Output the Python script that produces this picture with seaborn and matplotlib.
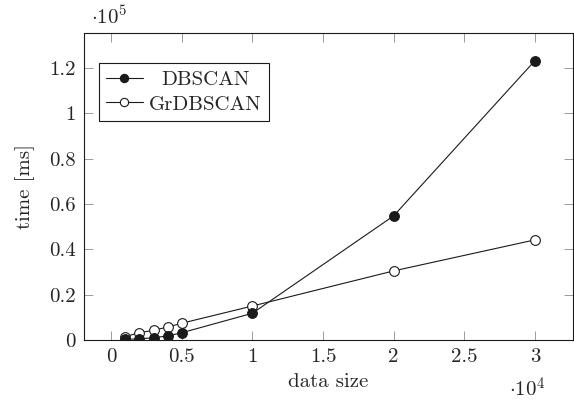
import matplotlib
matplotlib.use('Agg')
import matplotlib.pyplot as plt
import matplotlib.transforms as mtransforms
from matplotlib.ticker import FuncFormatter, MultipleLocator
import seaborn as sns

# Daten (Zeit in ms, Datengroesse in Punkten)
data_size = [1000, 2000, 3000, 4000, 5000, 10000, 20000, 30000]
dbscan_ms = [300, 500, 1000, 1800, 3200, 11800, 54800, 123300]
grdbscan_ms = [1500, 3200, 4300, 5700, 7400, 15000, 30500, 44200]

sns.set_style('ticks')
plt.rcParams['font.family'] = ['cmr10', 'DejaVu Serif']
plt.rcParams['mathtext.fontset'] = 'cm'
plt.rcParams['axes.formatter.use_mathtext'] = True

fig = plt.figure(figsize=(5.74, 4.0), dpi=100)
ax = fig.add_axes([84.3 / 574, 60 / 400, (573 - 84.3) / 574, (340 - 33.3) / 400])

sns.lineplot(x=data_size, y=dbscan_ms, ax=ax, color='#1a1a1a', lw=0.8,
             marker='o', markersize=7, markerfacecolor='#1a1a1a',
             markeredgecolor='#1a1a1a', markeredgewidth=0.8,
             label='DBSCAN', zorder=3)
sns.lineplot(x=data_size, y=grdbscan_ms, ax=ax, color='#1a1a1a', lw=0.8,
             marker='o', markersize=7, markerfacecolor='white',
             markeredgecolor='#1a1a1a', markeredgewidth=0.8,
             label='GrDBSCAN', zorder=2)

ax.set_xlim(-1900, 32700)
ax.set_ylim(0, 135400)
ax.xaxis.set_major_locator(MultipleLocator(5000))
ax.yaxis.set_major_locator(MultipleLocator(20000))
ax.xaxis.set_major_formatter(FuncFormatter(lambda v, p: f'{v / 1e4:g}'))
ax.yaxis.set_major_formatter(FuncFormatter(lambda v, p: f'{v / 1e5:g}'))
ax.tick_params(direction='in', length=6.5, width=0.6, color='#8c8c8c',
               top=True, right=True, labelsize=15, pad=6)
for s in ax.spines.values():
    s.set_linewidth(0.8)
    s.set_color('#1a1a1a')

ax.set_xlabel('data size', fontsize=15, labelpad=5)
ax.set_ylabel('time [ms]', fontsize=15, labelpad=10)

fig.text(91 / 574, 1 - 17 / 400, r'$\cdot10^{5}$', fontsize=15, ha='left', va='center')
fig.text(509 / 574, 1 - 389 / 400, r'$\cdot10^{4}$', fontsize=15, ha='left', va='center')

leg = ax.legend(loc='upper left', bbox_to_anchor=(0.030, 0.903), borderaxespad=0,
                frameon=True, fancybox=False, edgecolor='#1a1a1a', framealpha=1,
                fontsize=15, handlelength=1.75, handletextpad=0.3,
                labelspacing=0.3, borderpad=0.35, markerscale=0.85)
leg.get_frame().set_linewidth(0.8)
# Text in der Legende zentrieren wie bei pgfplots
texts = leg.get_texts()
fig.canvas.draw()
r = fig.canvas.get_renderer()
w = [t.get_window_extent(r).width for t in texts]
for t, wi in zip(texts, w):
    dx = (max(w) - wi) / 2 / fig.dpi
    t.set_transform(t.get_transform() + mtransforms.ScaledTranslation(dx, 0, fig.dpi_scale_trans))

fig.savefig('out.png', dpi=100)
